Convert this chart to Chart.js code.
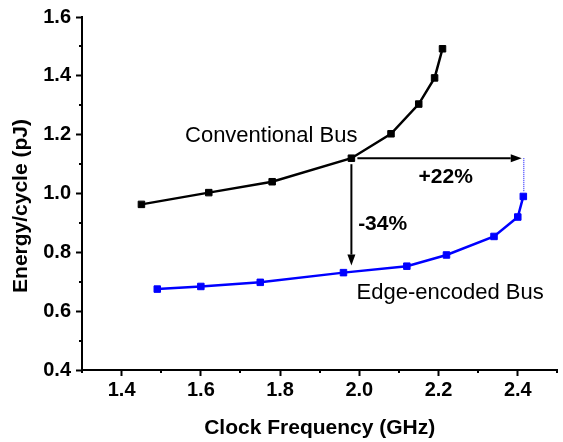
<!DOCTYPE html>
<html>
<head>
<meta charset="utf-8">
<script src="https://cdn.jsdelivr.net/npm/chart.js@4"></script>
<style>
  body { margin: 0; background: #fff; }
  #wrap { width: 563px; height: 442px; position: relative; }
</style>
</head>
<body>
<div id="wrap"><canvas id="chart"></canvas></div>
<script>
// datos
const convFreq = [1.45, 1.62, 1.78, 1.98, 2.08, 2.15, 2.19, 2.21];
const convEnergy = [0.963, 1.003, 1.040, 1.120, 1.203, 1.304, 1.393, 1.492];
const edgeFreq = [1.49, 1.60, 1.75, 1.96, 2.12, 2.22, 2.34, 2.40, 2.414];
const edgeEnergy = [0.675, 0.684, 0.698, 0.731, 0.753, 0.791, 0.854, 0.920, 0.990];

const xTicks = [1.4, 1.6, 1.8, 2.0, 2.2, 2.4];
const xMinor = [1.3, 1.5, 1.7, 1.9, 2.1, 2.3, 2.5];
const yTicks = [0.4, 0.6, 0.8, 1.0, 1.2, 1.4, 1.6];
const yMinor = [0.5, 0.7, 0.9, 1.1, 1.3, 1.5];

const FONT = '"Liberation Sans", Arial, sans-serif';

function pts(xs, ys) {
    return xs.map((x, i) => ({ x: x, y: ys[i] }));
}

function arrow(ctx, x1, y1, x2, y2) {
    const ang = Math.atan2(y2 - y1, x2 - x1);
    const len = 11, hw = 4;
    ctx.beginPath();
    ctx.moveTo(x1, y1);
    ctx.lineTo(x2 - Math.cos(ang) * len, y2 - Math.sin(ang) * len);
    ctx.stroke();
    ctx.beginPath();
    ctx.moveTo(x2, y2);
    ctx.lineTo(x2 - Math.cos(ang) * len - Math.sin(ang) * hw, y2 - Math.sin(ang) * len + Math.cos(ang) * hw);
    ctx.lineTo(x2 - Math.cos(ang) * len + Math.sin(ang) * hw, y2 - Math.sin(ang) * len - Math.cos(ang) * hw);
    ctx.closePath();
    ctx.fill();
}

// ticks menores, flechas y textos
const extras = {
    id: 'extras',
    afterDraw(chart) {
        const ctx = chart.ctx;
        const sx = chart.scales.x, sy = chart.scales.y;
        const a = chart.chartArea;
        ctx.save();
        ctx.strokeStyle = '#000';
        ctx.lineWidth = 2;
        xMinor.forEach(v => {
            const px = Math.round(sx.getPixelForValue(v));
            ctx.beginPath(); ctx.moveTo(px, a.bottom); ctx.lineTo(px, a.bottom + 3); ctx.stroke();
        });
        yMinor.forEach(v => {
            const py = Math.round(sy.getPixelForValue(v));
            ctx.beginPath(); ctx.moveTo(a.left, py); ctx.lineTo(a.left - 3, py); ctx.stroke();
        });

        // flechas
        const px0 = sx.getPixelForValue(1.98), py0 = sy.getPixelForValue(1.12);
        ctx.fillStyle = '#000';
        ctx.lineWidth = 2;
        arrow(ctx, px0 + 6, py0, sx.getPixelForValue(2.41), py0);
        arrow(ctx, px0, py0 + 6, px0, sy.getPixelForValue(0.755));

        // linea punteada azul
        ctx.strokeStyle = '#0000ff';
        ctx.lineWidth = 1;
        ctx.setLineDash([1, 1]);
        const pxd = sx.getPixelForValue(2.414) + 0.5;
        ctx.beginPath();
        ctx.moveTo(pxd, py0);
        ctx.lineTo(pxd, sy.getPixelForValue(1.005));
        ctx.stroke();
        ctx.setLineDash([]);

        // textos
        ctx.fillStyle = '#000';
        ctx.textBaseline = 'middle';
        ctx.textAlign = 'left';
        ctx.font = '22px ' + FONT;
        ctx.fillText('Conventional Bus', sx.getPixelForValue(1.56), sy.getPixelForValue(1.196));
        ctx.fillText('Edge-encoded Bus', sx.getPixelForValue(1.993), sy.getPixelForValue(0.663));
        ctx.font = 'bold 21px ' + FONT;
        ctx.fillText('-34%', sx.getPixelForValue(1.997), sy.getPixelForValue(0.895));
        ctx.textAlign = 'center';
        ctx.fillText('+22%', sx.getPixelForValue(2.218), sy.getPixelForValue(1.057));

        // titulos de ejes
        ctx.textBaseline = 'alphabetic';
        ctx.fillText('Clock Frequency (GHz)', (a.left + a.right) / 2, 434);
        ctx.translate(27, 206);
        ctx.rotate(-Math.PI / 2);
        ctx.fillText('Energy/cycle (pJ)', 0, 0);
        ctx.restore();
    }
};

const axisCommon = {
    type: 'linear',
    border: { display: true, color: '#000', width: 2 },
    grid: { display: true, drawOnChartArea: false, drawTicks: true, tickLength: 6, tickWidth: 2, tickColor: '#000' },
    ticks: { color: '#000', font: { family: FONT, size: 20, weight: 'bold' } }
};

new Chart(document.getElementById('chart'), {
    type: 'line',
    data: {
        datasets: [
            {
                label: 'Conventional Bus',
                data: pts(convFreq, convEnergy),
                borderColor: '#000',
                backgroundColor: '#000',
                borderWidth: 2.5,
                pointStyle: 'rect',
                pointRadius: 4.6,
                pointBorderWidth: 1,
                tension: 0
            },
            {
                label: 'Edge-encoded Bus',
                data: pts(edgeFreq, edgeEnergy),
                borderColor: '#0000ff',
                backgroundColor: '#0000ff',
                borderWidth: 2.5,
                pointStyle: 'rect',
                pointRadius: 4.6,
                pointBorderWidth: 1,
                tension: 0
            }
        ]
    },
    options: {
        responsive: true,
        maintainAspectRatio: false,
        animation: false,
        layout: { padding: { top: 17, right: 1, left: 0, bottom: 0 } },
        plugins: { legend: { display: false }, tooltip: { enabled: false } },
        scales: {
            x: Object.assign({}, axisCommon, {
                min: 1.3, max: 2.5,
                ticks: Object.assign({}, axisCommon.ticks, { padding: 2, callback: v => v.toFixed(1) }),
                afterBuildTicks: s => { s.ticks = xTicks.map(v => ({ value: v })); },
                afterFit: s => { s.height = 72; }
            }),
            y: Object.assign({}, axisCommon, {
                min: 0.4, max: 1.6,
                ticks: Object.assign({}, axisCommon.ticks, { padding: 5, callback: v => v.toFixed(1) }),
                afterBuildTicks: s => { s.ticks = yTicks.map(v => ({ value: v })); },
                afterFit: s => { s.width = 82; }
            })
        }
    },
    plugins: [extras]
});
</script>
</body>
</html>
